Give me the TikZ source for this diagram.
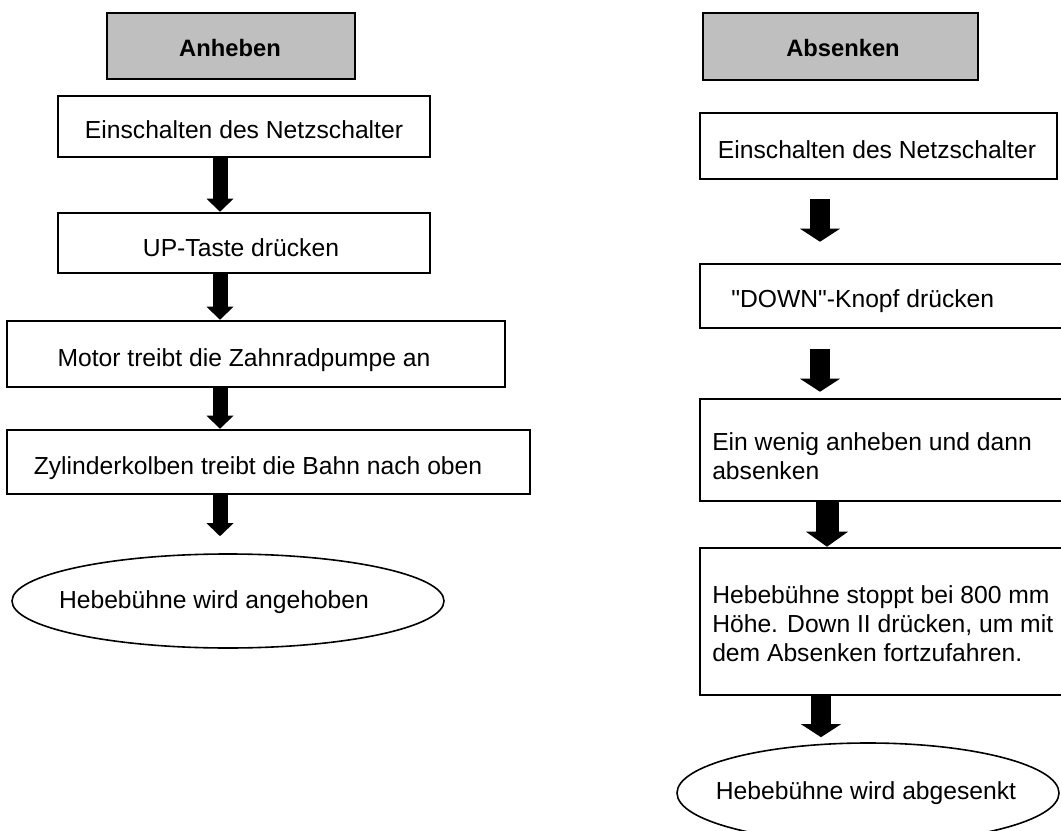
\documentclass[tikz,border=0pt]{standalone}
\usepackage{fontspec}
\setmainfont{Liberation Sans}[Ligatures=TeXOff]
\usetikzlibrary{arrows.meta,shapes.geometric,fit}
\definecolor{headgray}{RGB}{191,191,191}
\begin{document}
\begin{tikzpicture}[x=0.75pt,y=-0.75pt,
  box/.style={draw, line width=1.9pt, inner sep=0pt},
  headbox/.style={draw, line width=2.2pt, fill=headgray, inner sep=0pt},
  txt/.style={inner sep=0pt, font=\fontsize{18.5}{21.75}\selectfont},
  htxt/.style={inner sep=0pt, font=\fontsize{17.8}{21}\selectfont\bfseries},
  oval/.style={draw, ellipse, line width=1.2pt, inner sep=0pt},
  blkL/.style={line width=11.25pt, -{Triangle[width=20.25pt,length=9.75pt,line width=0pt]}},
  blkR/.style={line width=15pt, -{Triangle[width=30pt,length=9.75pt,line width=0pt]}},
  blkRw/.style={line width=17.25pt, -{Triangle[width=31.5pt,length=11.25pt,line width=0pt]}}
]
\useasboundingbox (0,0) rectangle (1061,831);
\fill[white] (0,0) rectangle (1061,831);
\clip (0,0) rectangle (1061,831);

% ---------- left column: Anheben ----------
\node[headbox, fit={(107,13) (355,79)}] (LH) {};
\node[htxt] (LHt) at (230,48) {Anheben};

\node[box, fit={(58,96) (430,157)}] (L1) {};
\node[txt] (L1t) at (244,130) {Einschalten des Netzschalter};

\node[box, fit={(58,213) (430,273)}] (L2) {};
\node[txt] (L2t) at (241,248) {UP-Taste drücken};

\node[box, fit={(7,321) (505,387)}] (L3) {};
\node[txt] (L3t) at (244,360) {Motor treibt die Zahnradpumpe an};

\node[box, fit={(7,430) (530,494)}] (L4) {};
\node[txt] (L4t) at (258,468) {Zylinderkolben treibt die Bahn nach oben};

\node[oval, minimum width=324pt, minimum height=70.5pt] (LE) at (228,601) {};
\node[txt] (LEt) at (214,602) {Hebebühne wird angehoben};

\coordinate (LA) at (220,0);
\draw[blkL] (L1.south -| LA) -- (L2.north -| LA);
\draw[blkL] (L2.south -| LA) -- (L3.north -| LA);
\draw[blkL] (L3.south -| LA) -- (L4.north -| LA);
\draw[blkL, shorten >=12.75pt] (L4.south -| LA) -- (LE.north -| LA);

% ---------- right column: Absenken ----------
\node[headbox, fit={(703,13) (978,80)}] (RH) {};
\node[htxt] (RHt) at (843,48) {Absenken};

\node[box, fit={(700,113) (1057,179)}] (R1) {};
\node[txt] (R1t) at (877,150) {Einschalten des Netzschalter};

\node[box, fit={(700,264) (1080,328)}] (R2) {};
\node[txt, anchor=west] (R2t) at (731,301) {"DOWN"-Knopf drücken};

\node[box, fit={(700,399) (1080,501)}] (R3) {};
\node[txt, anchor=west, align=left] (R3t) at (712,456) {Ein wenig anheben und dann\\absenken};

\node[box, fit={(700,548) (1080,695)}] (R4) {};
\node[txt, anchor=west, align=left] (R4t) at (712,623.5) {Hebebühne stoppt bei 800 mm\\Höhe. Down II drücken, um mit\\dem Absenken fortzufahren.};

\node[oval, minimum width=286.5pt, minimum height=75pt] (RE) at (868,793) {};
\node[txt] (REt) at (866,793) {Hebebühne wird abgesenkt};

\coordinate (RA) at (820,0);
\coordinate (RB) at (827,0);
\coordinate (RC) at (821,0);
\draw[blkR, shorten <=14.25pt, shorten >=15.75pt] (R1.south -| RA) -- (R2.north -| RA);
\draw[blkR, shorten <=15pt, shorten >=4.5pt] (R2.south -| RA) -- (R3.north -| RA);
\draw[blkRw] (R3.south -| RB) -- (R4.north -| RB);
\draw[blkR, shorten >=3.75pt] (R4.south -| RC) -- (RE.north -| RC);
\end{tikzpicture}
\end{document}
